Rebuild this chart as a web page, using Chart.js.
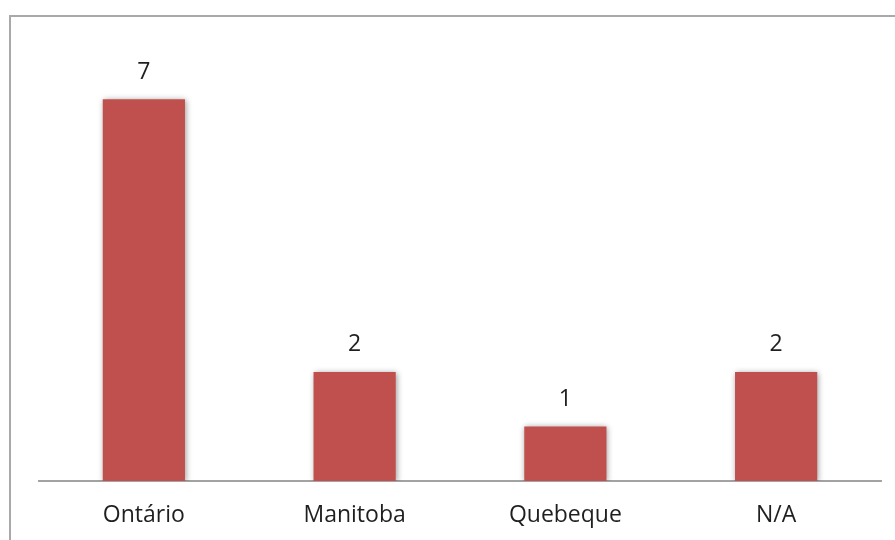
<!DOCTYPE html>
<html lang="pt">
<head>
    <meta charset="UTF-8">
    <title>Estados</title>
    <script src="https://cdn.jsdelivr.net/npm/chart.js"></script>
    <style>
        body { margin: 0; background: #fff; overflow: hidden; }
        #frame {
            position: absolute; left: 9px; top: 15px;
            width: 1000px; height: 700px;
            border-left: 2px solid #a9a9ad; border-top: 2px solid #a9a9ad;
        }
        #wrap { position: absolute; left: 0; top: 0; width: 895px; height: 540px; }
    </style>
</head>
<body>
    <div id="frame"></div>
    <div id="wrap"><canvas id="myChart"></canvas></div>
    <script>
const categories = ['Ontário', 'Manitoba', 'Quebeque', 'N/A'];
const values = [7, 2, 1, 2];
const yMax = 8;

// bar shadow like the office chart
const shadowPlugin = {
    id: 'shadow',
    beforeDatasetsDraw(chart) {
        const c = chart.ctx;
        c.save();
        c.shadowColor = 'rgba(0,0,0,0.4)';
        c.shadowBlur = 6;
        c.shadowOffsetX = 1;
        c.shadowOffsetY = 1;
    },
    afterDatasetsDraw(chart) {
        chart.ctx.restore();
    }
};

const labelPlugin = {
    id: 'valueLabels',
    afterDraw(chart) {
        const c = chart.ctx;
        const meta = chart.getDatasetMeta(0);
        c.save();
        c.font = '23px "Open Sans"';
        c.fillStyle = '#1f1f1f';
        c.textAlign = 'center';
        c.textBaseline = 'middle';
        meta.data.forEach((bar, i) => {
            c.fillText(String(values[i]), bar.x, bar.y - 27);
        });
        c.restore();
    }
};

const ctx = document.getElementById('myChart').getContext('2d');
const myChart = new Chart(ctx, {
    type: 'bar',
    data: {
        labels: categories,
        datasets: [{
            data: values,
            backgroundColor: '#C0504D',
            borderWidth: 0,
            categoryPercentage: 1,
            barPercentage: 0.39
        }]
    },
    options: {
        responsive: true,
        maintainAspectRatio: false,
        animation: false,
        layout: { padding: { left: 38.5, right: 13.5, top: 44.6, bottom: 0 } },
        plugins: { legend: { display: false }, tooltip: { enabled: false } },
        scales: {
            y: { display: false, min: 0, max: yMax },
            x: {
                z: 1,
                grid: { display: false, drawTicks: false },
                border: { display: true, color: '#a3a3a3', width: 2 },
                ticks: { color: '#1f1f1f', font: { family: 'Open Sans', size: 23 }, padding: 21 },
                afterFit(scale) { scale.height = 59; }
            }
        }
    },
    plugins: [shadowPlugin, labelPlugin]
});
    </script>
</body>
</html>
